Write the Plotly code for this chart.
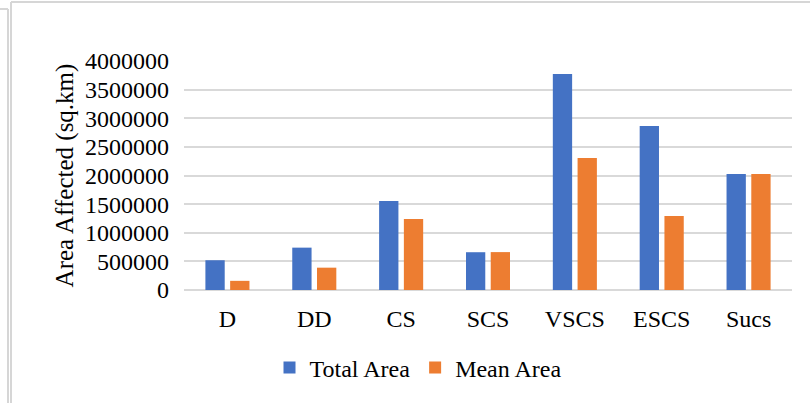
import plotly.graph_objects as go

# Cyclone categories and affected area (sq.km)
categories = ["D", "DD", "CS", "SCS", "VSCS", "ESCS", "Sucs"]
total_area = [520000, 740000, 1555000, 660000, 3775000, 2865000, 2025000]
mean_area = [160000, 390000, 1240000, 662000, 2305000, 1293000, 2025000]
y_ticks = [0, 500000, 1000000, 1500000, 2000000, 2500000, 3000000, 3500000, 4000000]

W, H = 810, 403
L, R, T, B = 184, 18, 61, 113
PW, PH = W - L - R, H - T - B

FONT = "Liberation Serif, Times New Roman, serif"
GRID = "#d9d9d9"


def px_x(p):
    return (p - L) / PW


def px_y(p):
    return (H - B - p) / PH


fig = go.Figure()
fig.add_trace(go.Bar(name="Total Area", x=categories, y=total_area,
                     marker=dict(color="#4472C4", line=dict(width=0))))
fig.add_trace(go.Bar(name="Mean Area", x=categories, y=mean_area,
                     marker=dict(color="#ED7D31", line=dict(width=0))))

# light frame around the chart area
frame = dict(type="line", xref="paper", yref="paper",
             line=dict(color="#d6d6d6", width=2), layer="above")
shapes = [
    dict(frame, x0=px_x(11), x1=px_x(812), y0=px_y(2), y1=px_y(2)),
    dict(frame, x0=px_x(11), x1=px_x(11), y0=px_y(2), y1=px_y(405)),
    dict(frame, x0=px_x(-2), x1=px_x(8), y0=px_y(9), y1=px_y(9)),
    dict(frame, x0=px_x(8), x1=px_x(8), y0=px_y(9), y1=px_y(405)),
]

fig.update_layout(
    width=W, height=H,
    margin=dict(l=L, r=R, t=T, b=B, pad=0),
    paper_bgcolor="white", plot_bgcolor="white",
    barmode="group", bargap=0.43, bargroupgap=0.22,
    font=dict(family=FONT, size=24, color="black"),
    showlegend=True,
    legend=dict(orientation="h", x=px_x(418), xanchor="center",
                y=px_y(368), yanchor="middle",
                font=dict(family=FONT, size=24, color="black"),
                bgcolor="rgba(0,0,0,0)"),
    xaxis=dict(showgrid=False, showline=False, ticks="",
               tickfont=dict(family=FONT, size=24), ticklabelstandoff=12),
    yaxis=dict(range=[0, 4000000], tickvals=y_ticks,
               ticktext=[str(v) for v in y_ticks],
               showgrid=True, gridcolor=GRID, gridwidth=1.5,
               zeroline=True, zerolinecolor=GRID, zerolinewidth=1.5,
               showline=False, ticks="", ticklabelstandoff=14,
               tickfont=dict(family=FONT, size=24),
               title=dict(text="Area Affected (sq.km)", standoff=4,
                          font=dict(family=FONT, size=25))),
    shapes=shapes,
)

fig.write_html("out.html")
